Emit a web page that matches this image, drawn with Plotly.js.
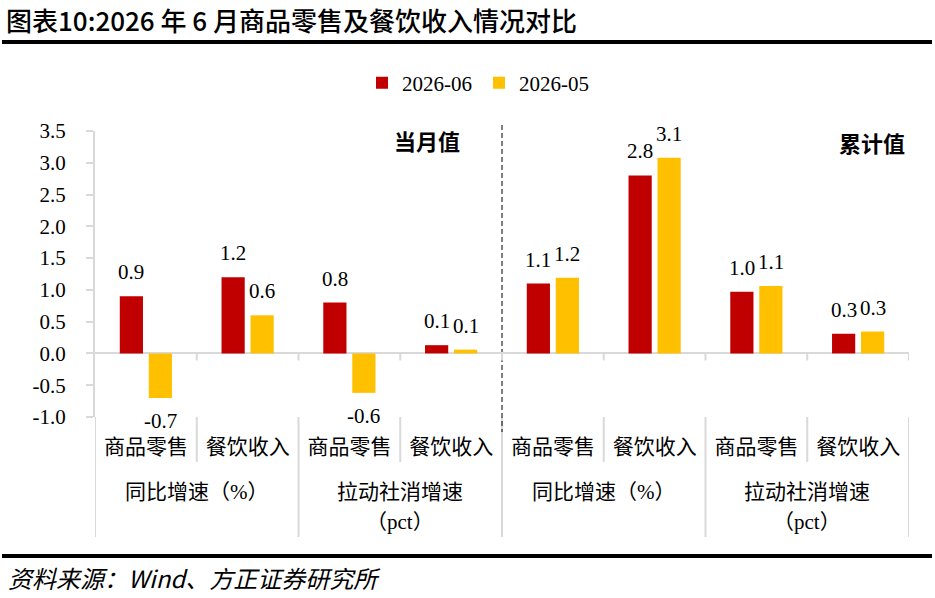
<!DOCTYPE html>
<html>
<head>
<meta charset="utf-8">
<script src="https://cdn.plot.ly/plotly-3.0.1.min.js"></script>
<style>
  html, body { margin: 0; padding: 0; background: #fff; }
  #chart { width: 935px; height: 598px; }
</style>
</head>
<body>
<div id="chart"></div>
<script>
// 图表10：2026年6月商品零售及餐饮收入情况对比
var subLabels = ['商品零售', '餐饮收入', '商品零售', '餐饮收入', '商品零售', '餐饮收入', '商品零售', '餐饮收入'];
var groupLabels = ['同比增速（%）', '拉动社消增速<br>（pct）', '同比增速（%）', '拉动社消增速<br>（pct）'];
var panelLabels = ['当月值', '累计值'];
var seriesNames = ['2026-06', '2026-05'];
var jun = [0.9, 1.2, 0.8, 0.13, 1.1, 2.8, 0.97, 0.31];
var may = [-0.7, 0.6, -0.62, 0.06, 1.19, 3.08, 1.06, 0.345];
var yTicks = [-1.0, -0.5, 0, 0.5, 1.0, 1.5, 2.0, 2.5, 3.0, 3.5];

var RED = '#C00000';
var YELLOW = '#FFC000';
var GRAY = '#d9d9d9';
var SERIF = 'Liberation Serif, Noto Sans CJK SC, serif';
var CJK = 'Liberation Serif, Noto Sans CJK SC, sans-serif';

// plot area in page pixels
var L = 95, R = 909, T = 131, B = 417;
function px2x(px) { return (px - L) / (R - L); }
function px2y(py) { return (B - py) / (B - T); }

var idx = subLabels.map(function(_, i) { return i; });

var traces = [
    { name: seriesNames[0], x: idx, y: jun, type: 'bar', marker: { color: RED } },
    { name: seriesNames[1], x: idx, y: may, type: 'bar', marker: { color: YELLOW } }
];

function valueLabels(values, shift) {
    return values.map(function(v, i) {
        return {
            x: i, y: v, xref: 'x', yref: 'y', xshift: shift,
            text: v.toFixed(1), showarrow: false,
            yanchor: v >= 0 ? 'bottom' : 'top',
            yshift: v >= 0 ? 10 : -9,
            font: { family: SERIF, size: 21, color: '#000' }
        };
    });
}

var annotations = valueLabels(jun, -14.5).concat(valueLabels(may, 14.5));

// second level category labels, one annotation per line
groupLabels.forEach(function(g, gi) {
    g.split('<br>').forEach(function(line, li) {
        annotations.push({
            x: gi * 2 + 0.5, xref: 'x', y: px2y(492 + li * 30), yref: 'paper',
            text: line, showarrow: false, xanchor: 'center', yanchor: 'middle',
            font: { family: CJK, size: 21, color: '#000' }
        });
    });
});

var panelFont = { family: 'Noto Sans CJK SC', size: 22, color: '#000', weight: 'bold' };
annotations.push({
    x: px2x(427), y: px2y(140), xref: 'paper', yref: 'paper', xanchor: 'center', yanchor: 'middle',
    text: panelLabels[0], showarrow: false, font: panelFont
});
annotations.push({
    x: px2x(872), y: px2y(142), xref: 'paper', yref: 'paper', xanchor: 'center', yanchor: 'middle',
    text: panelLabels[1], showarrow: false, font: panelFont
});
annotations.push({
    x: px2x(6), y: px2y(577), xref: 'paper', yref: 'paper', xanchor: 'left', yanchor: 'middle',
    text: '资料来源：Wind、方正证券研究所', showarrow: false,
    font: { family: 'Noto Sans CJK SC', size: 24, color: '#000', style: 'italic' }
});

var shapes = [];
function line(x0, x1, y0, y1, xref, yref, color, width, dash) {
    shapes.push({
        type: 'line', xref: xref, yref: yref, x0: x0, x1: x1, y0: y0, y1: y1,
        line: { color: color, width: width, dash: dash || 'solid' }, layer: 'below'
    });
}

// rules under title and above source
line(px2x(2), px2x(932), px2y(42), px2y(42), 'paper', 'paper', '#000', 4);
line(px2x(2), px2x(932), px2y(556), px2y(556), 'paper', 'paper', '#000', 4);

// tick marks on the zero line
for (var k = 0; k < 8; k++) {
    line(k + 0.5, k + 0.5, 0, -7 / ((B - T) / 4.5), 'x', 'y', GRAY, 2);
}
// dividers in the label area
[0.5, 2.5, 4.5, 6.5].forEach(function(xv) {
    line(xv, xv, 0, px2y(462), 'x', 'paper', GRAY, 2);
});
[-0.5, 1.5, 3.5, 5.5, 7.5].forEach(function(xv) {
    line(xv, xv, 0, px2y(537), 'x', 'paper', GRAY, 2);
});
// dashed split between 当月值 and 累计值
line(3.5, 3.5, px2y(125), px2y(432), 'x', 'paper', '#000', 1, '5px,3px');

var layout = {
    width: 935,
    height: 598,
    margin: { l: L, r: 935 - R, t: T, b: 598 - B },
    paper_bgcolor: '#fff',
    plot_bgcolor: '#fff',
    title: {
        text: '图表10:2026 年 6 月商品零售及餐饮收入情况对比',
        x: 6 / 935, xanchor: 'left', xref: 'container',
        y: 1 - 22 / 598, yanchor: 'middle', yref: 'container',
        font: { family: 'Noto Sans CJK SC', size: 26, color: '#000', weight: 500 }
    },
    barmode: 'group',
    bargap: 0.43,
    bargroupgap: 0.2,
    showlegend: true,
    legend: {
        orientation: 'h', x: px2x(362), y: px2y(83), xanchor: 'left', yanchor: 'middle',
        xref: 'paper', yref: 'paper',
        entrywidth: 72, entrywidthmode: 'pixels',
        font: { family: SERIF, size: 21, color: '#000' }
    },
    xaxis: {
        range: [-0.5, 7.5],
        tickvals: idx,
        ticktext: subLabels,
        ticks: '',
        showline: false,
        showgrid: false,
        zeroline: false,
        ticklabelstandoff: 15,
        tickfont: { family: CJK, size: 21, color: '#000' }
    },
    yaxis: {
        range: [-1, 3.5],
        tickvals: yTicks,
        ticktext: yTicks.map(function(v) { return v.toFixed(1); }),
        showline: true,
        linecolor: GRAY,
        linewidth: 2,
        ticks: 'outside',
        ticklen: 7,
        tickwidth: 2,
        tickcolor: GRAY,
        showgrid: false,
        zeroline: true,
        zerolinecolor: GRAY,
        zerolinewidth: 2,
        ticklabelstandoff: 16,
        tickfont: { family: SERIF, size: 21, color: '#000' }
    },
    annotations: annotations,
    shapes: shapes
};

Plotly.newPlot('chart', traces, layout, { displayModeBar: false, staticPlot: true });
</script>
</body>
</html>
